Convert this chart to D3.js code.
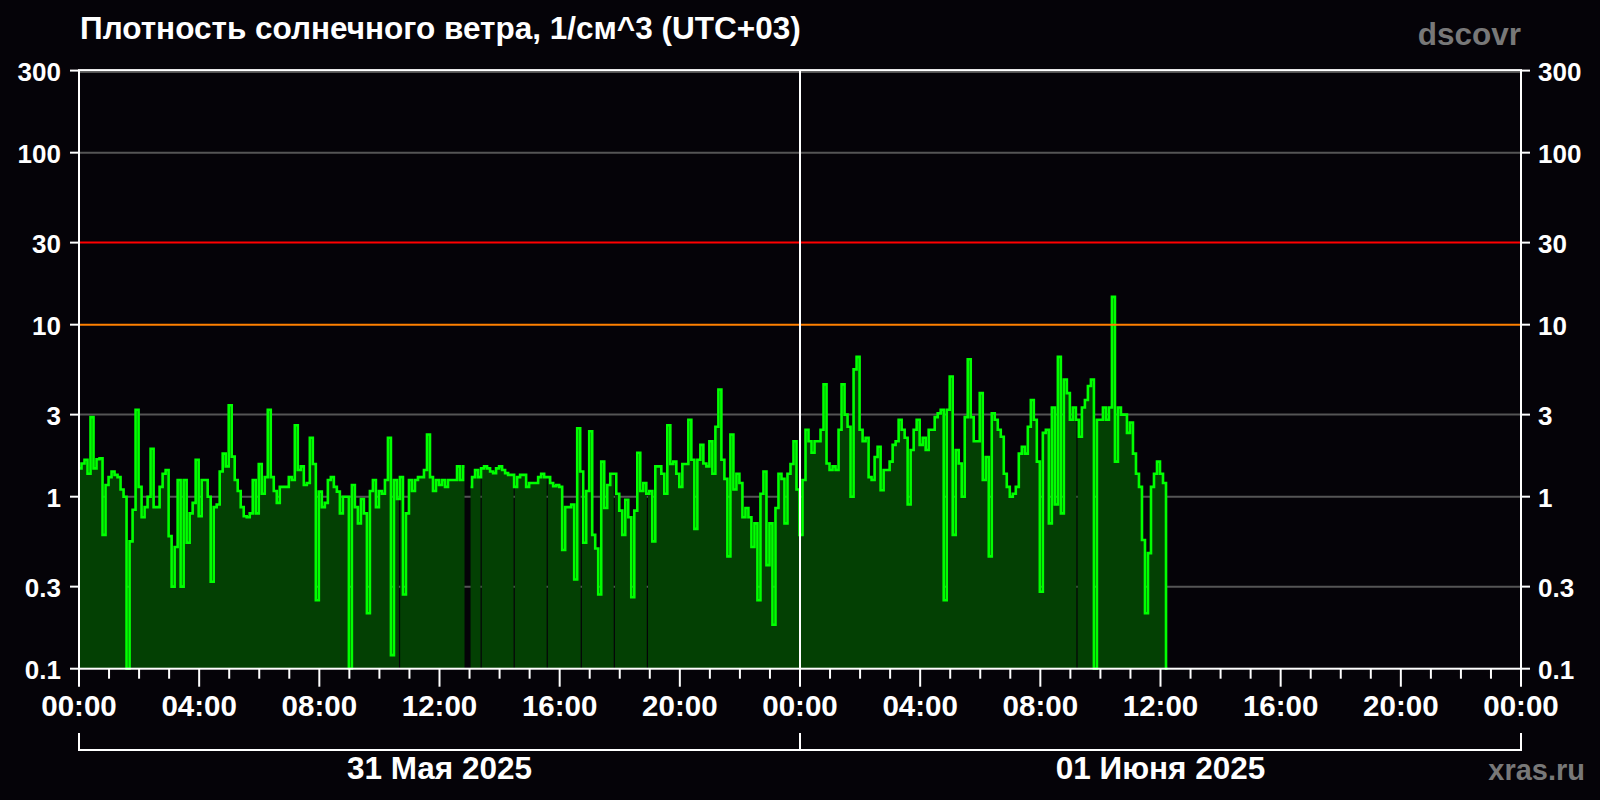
<!DOCTYPE html>
<html><head><meta charset="utf-8">
<script src="https://cdn.jsdelivr.net/npm/d3@7"></script>
<style>
html,body{margin:0;padding:0;background:#050308;}
svg{display:block;}
text{font-family:"Liberation Sans",Arial,sans-serif;font-weight:bold;}
</style></head>
<body>
<svg id="chart" width="1600" height="800"></svg>
<script>
// ---- data ----
const title = "Плотность солнечного ветра, 1/см^3 (UTC+03)";
const source = "dscovr";
const site = "xras.ru";
const dayLabels = ["31 Мая 2025", "01 Июня 2025"];
const dayStarts = ["2025-05-31T00:00:00Z", "2025-06-01T00:00:00Z", "2025-06-02T00:00:00Z"];
const seriesStart = "2025-05-31T00:02:00Z";
const stepMinutes = 6;
const yTickValues = [0.1, 0.3, 1, 3, 10, 30, 100, 300];
const yTickLabels = ["0.1", "0.3", "1", "3", "10", "30", "100", "300"];
const thresholds = [10, 30];
const gapTimes = ["2025-05-31T10:40:00Z","2025-05-31T13:23:00Z","2025-05-31T14:29:00Z","2025-05-31T15:35:00Z",
  "2025-05-31T16:43:00Z","2025-05-31T17:49:00Z","2025-05-31T18:55:00Z","2025-06-01T09:13:00Z"];
// density, 1/cm^3, every 6 minutes (null = missing)
const density = [
 1.46,1.56,1.64,1.36,2.9,1.46,1.65,1.67,0.6,1.17,1.3,1.4,1.34,1.3,1.1,
 1.0,0.1,0.55,0.84,3.2,1.14,0.76,0.87,1.0,1.9,0.87,0.87,1.14,1.36,1.43,
 0.59,0.3,0.51,1.25,0.3,1.25,0.54,0.8,0.92,1.64,0.77,1.25,1.25,1.0,0.32,
 0.87,0.9,1.4,1.78,1.5,3.4,1.71,1.25,1.08,0.87,0.77,0.76,0.8,1.25,0.8,
 1.55,1.04,1.3,3.2,1.3,1.08,0.92,1.14,1.14,1.14,1.3,1.25,2.6,1.43,1.5,
 1.17,1.2,2.2,1.55,0.25,1.07,0.87,0.92,1.25,1.3,1.14,1.07,0.8,1.0,1.0,
 0.1,1.17,0.87,0.7,
 0.97,0.8,0.21,1.08,1.25,0.87,1.08,1.04,1.25,2.2,0.12,1.25,0.97,1.3,0.27,
 0.8,1.25,1.08,1.25,1.3,1.3,1.43,2.3,1.3,1.08,1.25,1.17,1.25,1.14,1.25,
 1.25,1.25,1.5,1.25,1.5,null,1.14,1.3,1.43,1.3,1.46,1.5,1.46,1.4,1.37,
 1.46,1.5,1.43,1.37,1.34,1.34,1.14,1.3,1.34,1.34,
 1.14,1.2,1.2,1.2,1.3,1.36,1.3,1.3,1.2,1.15,1.17,1.14,0.49,0.87,0.87,
 0.9,0.33,2.5,1.4,0.54,1.08,2.4,0.6,0.5,0.27,1.6,0.86,1.17,1.36,1.36,
 1.04,0.83,0.6,0.96,0.76,0.26,0.83,1.8,1.08,1.2,1.04,1.08,0.55,1.5,1.5,
 1.36,1.04,2.6,1.55,1.6,1.36,1.14,1.55,1.55,2.8,
 1.64,0.65,1.64,2.0,1.56,1.5,2.1,1.36,2.55,4.2,1.64,1.27,0.45,2.3,1.1,
 1.36,1.2,0.76,0.86,0.76,0.51,0.7,0.25,1.04,1.4,0.4,0.7,0.18,0.86,1.36,
 1.27,0.7,1.36,1.55,2.1,1.1,
 0.6,1.25,2.45,2.1,1.8,2.1,2.1,2.45,4.5,1.56,1.43,1.5,1.43,2.45,4.5,
 3.0,2.55,1.0,5.5,6.5,2.45,2.1,2.2,1.3,1.25,1.7,1.95,1.09,1.43,1.43,
 1.6,2.0,2.1,2.8,2.45,2.2,0.9,1.87,2.45,2.8,2.0,2.2,1.87,2.45,2.45,
 2.9,3.05,3.2,0.25,3.2,5.0,0.6,1.87,1.56,1.0,2.9,6.3,2.9,2.1,2.1,
 4.0,1.25,1.7,0.45,
 3.05,2.8,2.45,2.23,1.36,1.14,1.0,1.04,1.14,1.78,1.95,1.78,2.55,3.65,2.8,
 1.6,0.28,2.35,2.45,0.7,3.3,0.9,6.5,0.8,4.8,4.0,2.8,3.3,2.8,2.23,
 3.3,3.65,4.4,4.8,0.1,2.8,2.8,3.3,2.8,3.3,14.5,1.6,3.3,3.0,3.0,
 2.35,2.7,1.78,1.36,1.14,0.56,0.21,0.47,1.14,1.36,1.6,1.36,1.2,0.1
];

// ---- layout ----
const L = 79, R = 1521, T = 70.6, B = 668.7;
const svg = d3.select("#chart");
svg.append("rect").attr("width",1600).attr("height",800).attr("fill","#050308");

const x = d3.scaleUtc().domain([new Date(dayStarts[0]), new Date(dayStarts[2])]).range([L, R]);
const y = d3.scaleLog().domain([0.1, 300]).range([B, T]);

const t0 = new Date(seriesStart).getTime();
const pts = density.map((v, i) => ({ t: new Date(t0 + i * stepMinutes * 60000), v }));

// grey grid lines (under data)
svg.append("g").selectAll("line").data(yTickValues.filter(v => v !== 0.1 && !thresholds.includes(v))).join("line")
  .attr("x1", L).attr("x2", R)
  .attr("y1", d => y(d) + (d === 300 ? 1.5 : 0)).attr("y2", d => y(d) + (d === 300 ? 1.5 : 0))
  .attr("stroke", "#555555").attr("stroke-width", 2);

// mask for data gaps (area only)
const defs = svg.append("defs");
const mask = defs.append("mask").attr("id", "gapmask").attr("maskUnits","userSpaceOnUse")
  .attr("x",0).attr("y",0).attr("width",1600).attr("height",800);
mask.append("rect").attr("x", 0).attr("y", 0).attr("width", 1600).attr("height", 800).attr("fill", "white");
mask.selectAll("rect.g").data(gapTimes).join("rect").attr("class","g")
  .attr("x", d => x(new Date(d)) - 0.5).attr("width", 1.2).attr("y", T).attr("height", B - T).attr("fill", "black");

const area = d3.area().defined(d => d.v != null).curve(d3.curveStep)
  .x(d => x(d.t)).y0(B).y1(d => y(d.v));
const line = d3.line().defined(d => d.v != null).curve(d3.curveStep)
  .x(d => x(d.t)).y(d => y(d.v));

svg.append("path").datum(pts).attr("d", area).attr("fill", "#034003").attr("mask", "url(#gapmask)");
svg.append("path").datum(pts).attr("d", line).attr("fill", "none").attr("stroke", "#00ff00")
  .attr("stroke-width", 2.6).attr("stroke-linejoin", "miter");

// threshold lines (over data)
svg.append("g").selectAll("line").data(thresholds).join("line")
  .attr("x1", L).attr("x2", R).attr("y1", d => y(d)).attr("y2", d => y(d))
  .attr("stroke", d => d === 30 ? "#ff0000" : "#ff8000").attr("stroke-width", 2);

// midnight separator
const mid = x(new Date(dayStarts[1]));
svg.append("line").attr("x1", mid).attr("x2", mid).attr("y1", T).attr("y2", B)
  .attr("stroke", "#ffffff").attr("stroke-width", 2);

// frame
svg.append("rect").attr("x", L).attr("y", T - 0.5).attr("width", R - L).attr("height", B - T + 0.5)
  .attr("fill", "none").attr("stroke", "#ffffff").attr("stroke-width", 2);

// y ticks and labels both sides
const yt = svg.append("g");
yTickValues.forEach((v, i) => {
  yt.append("line").attr("x1", L - 9).attr("x2", L).attr("y1", y(v)).attr("y2", y(v)).attr("stroke", "#fff").attr("stroke-width", 2);
  yt.append("line").attr("x1", R).attr("x2", R + 9).attr("y1", y(v)).attr("y2", y(v)).attr("stroke", "#fff").attr("stroke-width", 2);
  yt.append("text").attr("x", L - 18).attr("y", y(v) + 10).attr("text-anchor", "end")
    .attr("fill", "#fff").attr("font-size", 26).text(yTickLabels[i]);
  yt.append("text").attr("x", R + 17).attr("y", y(v) + 10).attr("text-anchor", "start")
    .attr("fill", "#fff").attr("font-size", 26).text(yTickLabels[i]);
});

// x ticks: minor hourly, major 4-hourly
const hours = x.ticks(d3.utcHour.every(1));
const fmt = d3.utcFormat("%H:%M");
svg.append("g").selectAll("line").data(hours).join("line")
  .attr("x1", d => x(d)).attr("x2", d => x(d)).attr("y1", B)
  .attr("y2", d => d.getUTCHours() % 4 === 0 ? B + 18 : B + 10)
  .attr("stroke", "#fff").attr("stroke-width", 2);
svg.append("g").selectAll("text").data(hours.filter(d => d.getUTCHours() % 4 === 0)).join("text")
  .attr("x", d => x(d)).attr("y", 716).attr("text-anchor", "middle")
  .attr("fill", "#fff").attr("font-size", 29.5).text(d => fmt(d));

// day bracket
const bx = dayStarts.map(d => x(new Date(d)));
svg.append("line").attr("x1", bx[0]).attr("x2", bx[2]).attr("y1", 750).attr("y2", 750).attr("stroke", "#fff").attr("stroke-width", 2);
svg.append("g").selectAll("line").data(bx).join("line")
  .attr("x1", d => d).attr("x2", d => d).attr("y1", 733).attr("y2", 751).attr("stroke", "#fff").attr("stroke-width", 2);
svg.append("g").selectAll("text").data(dayLabels).join("text")
  .attr("x", (d, i) => (bx[i] + bx[i + 1]) / 2).attr("y", 779).attr("text-anchor", "middle")
  .attr("fill", "#fff").attr("font-size", 31.5).text(d => d);

// titles
svg.append("text").attr("x", 80).attr("y", 39).attr("fill", "#fff").attr("font-size", 31.5).text(title);
svg.append("text").attr("x", R).attr("y", 45).attr("text-anchor", "end").attr("fill", "#787878").attr("font-size", 31.5).text(source);
svg.append("text").attr("x", 1585).attr("y", 780).attr("text-anchor", "end").attr("fill", "#787878").attr("font-size", 29).text(site);
</script>
</body></html>
